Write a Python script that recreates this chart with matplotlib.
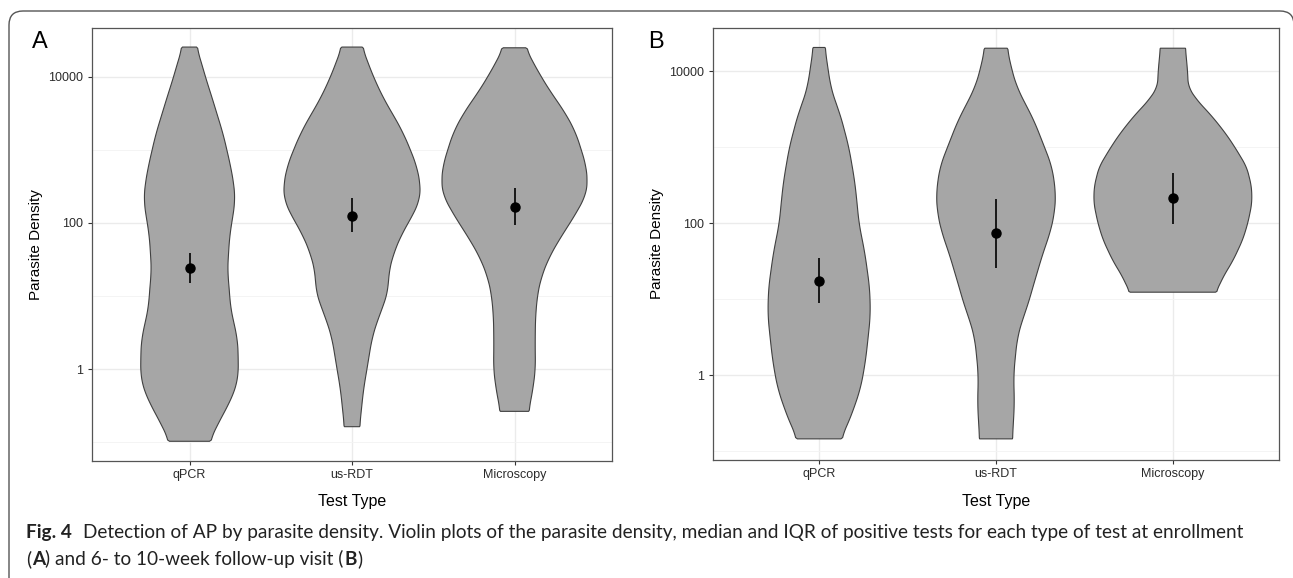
import numpy as np
import matplotlib
matplotlib.use("Agg")
import matplotlib.pyplot as plt
from matplotlib.patches import FancyBboxPatch
from matplotlib.ticker import FixedLocator, NullFormatter
from matplotlib.transforms import IdentityTransform

plt.rcParams['font.family'] = ['Liberation Sans', 'DejaVu Sans']

W, H = 1293, 578

tests = ["qPCR", "us-RDT", "Microscopy"]

# violin outlines: log10(parasite density) and half width
# panel A - enrollment
a_qpcr_log = [4.41, 4.23, 4.0, 3.68, 3.45, 3.23, 3.0, 2.77, 2.5, 2.32, 2.13, 1.86, 1.59,
              1.32, 1.11, 0.88, 0.66, 0.42, 0.19, -0.12, -0.26, -0.44, -0.63, -0.81, -0.99]
a_qpcr_hw = [0.043, 0.069, 0.098, 0.144, 0.175, 0.206, 0.23, 0.254, 0.275, 0.281, 0.27, 0.249, 0.24,
             0.234, 0.245, 0.25, 0.27, 0.295, 0.30, 0.30, 0.283, 0.252, 0.204, 0.163, 0.123]
a_rdt_log = [4.41, 4.23, 4.0, 3.68, 3.45, 3.23, 3.0, 2.77, 2.5, 2.32, 2.13, 1.86, 1.59, 1.32,
             1.08, 0.88, 0.66, 0.42, 0.19, -0.03, -0.26, -0.53, -0.79]
a_rdt_hw = [0.062, 0.093, 0.132, 0.2, 0.262, 0.316, 0.36, 0.40, 0.422, 0.418, 0.38, 0.309, 0.257, 0.226,
            0.223, 0.195, 0.156, 0.123, 0.106, 0.09, 0.072, 0.059, 0.047]
a_micro_log = [4.40, 4.26, 4.0, 3.79, 3.52, 3.25, 3.01, 2.79, 2.56, 2.38, 2.2, 2.01, 1.8, 1.52,
               1.25, 1.01, 0.7, 0.33, 0.01, -0.22, -0.4, -0.58]
a_micro_hw = [0.069, 0.10, 0.165, 0.224, 0.309, 0.375, 0.41, 0.44, 0.45, 0.44, 0.396, 0.345, 0.283, 0.211,
              0.164, 0.141, 0.129, 0.127, 0.129, 0.117, 0.103, 0.087]
a_median = [24, 126, 166]
a_q1 = [15, 76, 93]
a_q3 = [39, 219, 302]

# panel B - 6 to 10 week follow-up
b_qpcr_log = [4.31, 4.0, 3.79, 3.62, 3.44, 3.0, 2.57, 2.3, 2.0, 1.6, 1.21, 1.14, 0.79, 0.49,
              0.18, -0.17, -0.47, -0.66, -0.84]
b_qpcr_hw = [0.033, 0.052, 0.066, 0.088, 0.118, 0.168, 0.20, 0.213, 0.225, 0.259, 0.282, 0.286, 0.29, 0.277,
             0.262, 0.235, 0.192, 0.159, 0.123]
b_rdt_log = [4.3, 4.0, 3.79, 3.62, 3.36, 3.0, 2.74, 2.39, 2.13, 1.87, 1.6, 1.34, 1.12, 0.92, 0.71,
             0.49, 0.26, 0.0, -0.39, -0.84]
b_rdt_hw = [0.063, 0.091, 0.118, 0.154, 0.213, 0.274, 0.317, 0.338, 0.331, 0.306, 0.265, 0.232, 0.204, 0.18,
            0.147, 0.121, 0.11, 0.10, 0.104, 0.093]
b_micro_log = [4.3, 4.0, 3.79, 3.62, 3.4, 3.18, 3.0, 2.74, 2.48, 2.26, 2.0, 1.78, 1.51, 1.29, 1.12, 1.09]
b_micro_hw = [0.071, 0.083, 0.087, 0.135, 0.223, 0.298, 0.35, 0.417, 0.445, 0.447, 0.424, 0.395, 0.341, 0.284,
              0.251, 0.241]
b_median = [17.4, 74, 214]
b_q1 = [8.9, 25.7, 98]
b_q3 = [34.7, 209, 457]


def draw_violin(ax, pos, logs, hw):
    # the read outline is a bit jagged, so round it off for drawing
    logs = np.array(logs)[::-1]
    hw = np.array(hw)[::-1]
    grid = np.linspace(logs[0], logs[-1], 300)
    w = np.interp(grid, logs, hw)
    k = 9
    padded = np.concatenate([np.full(k, w[0]), w, np.full(k, w[-1])])
    w_s = np.convolve(padded, np.ones(2 * k + 1) / (2 * k + 1), mode='same')[k:-k]
    w_s[0], w_s[-1] = hw[0], hw[-1]
    y = 10 ** grid
    xs = np.concatenate([pos - w_s, (pos + w_s)[::-1]])
    ys = np.concatenate([y, y[::-1]])
    ax.fill(xs, ys, facecolor="#a6a6a6", edgecolor="#404040", lw=0.8, zorder=2)


def setup_panel(ax, ylim, ylab_x, xlab_y):
    ax.set_yscale('log')
    ax.set_ylim(*ylim)
    ax.set_xlim(0.4, 3.6)
    ax.set_xticks([1, 2, 3])
    ax.set_xticklabels(tests)
    ax.set_yticks([1, 100, 10000])
    ax.set_yticklabels(['1', '100', '10000'])
    ax.yaxis.set_minor_locator(FixedLocator([0.1, 10, 1000]))
    ax.yaxis.set_minor_formatter(NullFormatter())
    ax.tick_params(which='minor', length=0)
    ax.tick_params(which='major', length=2.6, width=0.8, color='#333333',
                   labelcolor='#2b2b2b', labelsize=9)
    ax.tick_params(axis='x', pad=3)
    ax.tick_params(axis='y', pad=4)
    ax.grid(which='major', color='#ebebeb', lw=1.0)
    ax.grid(which='minor', axis='y', color='#f3f3f3', lw=0.6)
    ax.set_axisbelow(True)
    for s in ax.spines.values():
        s.set_color('#555555')
        s.set_linewidth(0.9)
    ax.set_ylabel('Parasite Density', fontsize=11)
    ax.set_xlabel('Test Type', fontsize=11.5)
    ax.yaxis.label.set_va('baseline')
    ax.xaxis.label.set_va('baseline')
    ax.yaxis.set_label_coords(ylab_x, 0.5)
    ax.xaxis.set_label_coords(0.5, xlab_y)


fig = plt.figure(figsize=(W / 100, H / 100), dpi=100)

ax_a = fig.add_axes([92 / W, 1 - 461 / H, 520 / W, 433 / H])
ax_b = fig.add_axes([713 / W, 1 - 460 / H, 566 / W, 432 / H])

panels = [
    (ax_a, [(a_qpcr_log, a_qpcr_hw), (a_rdt_log, a_rdt_hw), (a_micro_log, a_micro_hw)],
     a_median, a_q1, a_q3, (10 ** -1.26, 10 ** 4.671), -0.10, -0.104),
    (ax_b, [(b_qpcr_log, b_qpcr_hw), (b_rdt_log, b_rdt_hw), (b_micro_log, b_micro_hw)],
     b_median, b_q1, b_q3, (10 ** -1.118, 10 ** 4.566), -0.092, -0.1065),
]

for ax, shapes, med, q1, q3, ylim, ylx, xly in panels:
    for i, (lg, hw) in enumerate(shapes):
        draw_violin(ax, i + 1, lg, hw)
    pos = np.arange(1, 4)
    ax.vlines(pos, q1, q3, color='black', lw=1.2, zorder=3)
    ax.plot(pos, med, 'o', color='black', ms=6.5, zorder=4)
    setup_panel(ax, ylim, ylx, xly)

fig.text(32 / W, 1 - 48 / H, 'A', fontsize=17, va='baseline', ha='left')
fig.text(648 / W, 1 - 48 / H, 'B', fontsize=17, va='baseline', ha='left')

# rounded frame round the whole figure
frame = FancyBboxPatch((9, -14), 1285, 581, boxstyle="round,pad=0,rounding_size=14",
                       transform=IdentityTransform(), facecolor='none',
                       edgecolor='#555555', lw=1.0)
fig.add_artist(frame)

# caption
cap_font = ['Lato', 'DejaVu Sans']
renderer = fig.canvas.get_renderer()


def caption_line(x, y, parts, size):
    made = []
    for txt, weight, gap in parts:
        t = fig.text(x / W, 1 - y / H, txt, fontsize=size, fontweight=weight,
                     family=cap_font, va='baseline', ha='left', color='#222222')
        made.append(t)
        x = t.get_window_extent(renderer).x1 + gap
    return made, x


line1 = [
    ("Fig. 4", 'bold', 11),
    ("Detection of AP by parasite density. Violin plots of the parasite density, median and IQR "
     "of positive tests for each type of test at enrollment", 'normal', 0),
]
line2 = [
    ("(", 'normal', 0.5),
    ("A", 'bold', 0.5),
    (") and 6- to 10-week follow-up visit (", 'normal', 0.5),
    ("B", 'bold', 0.5),
    (")", 'normal', 0),
]

# size the caption so that the first line ends where it does in the figure
trial, end = caption_line(26, 538, line1, 14)
for t in trial:
    t.remove()
cap_size = 14 * (1252 - 26) / (end - 26)
caption_line(26, 538, line1, cap_size)
caption_line(26, 565, line2, cap_size)

fig.savefig('out.png', dpi=100)
